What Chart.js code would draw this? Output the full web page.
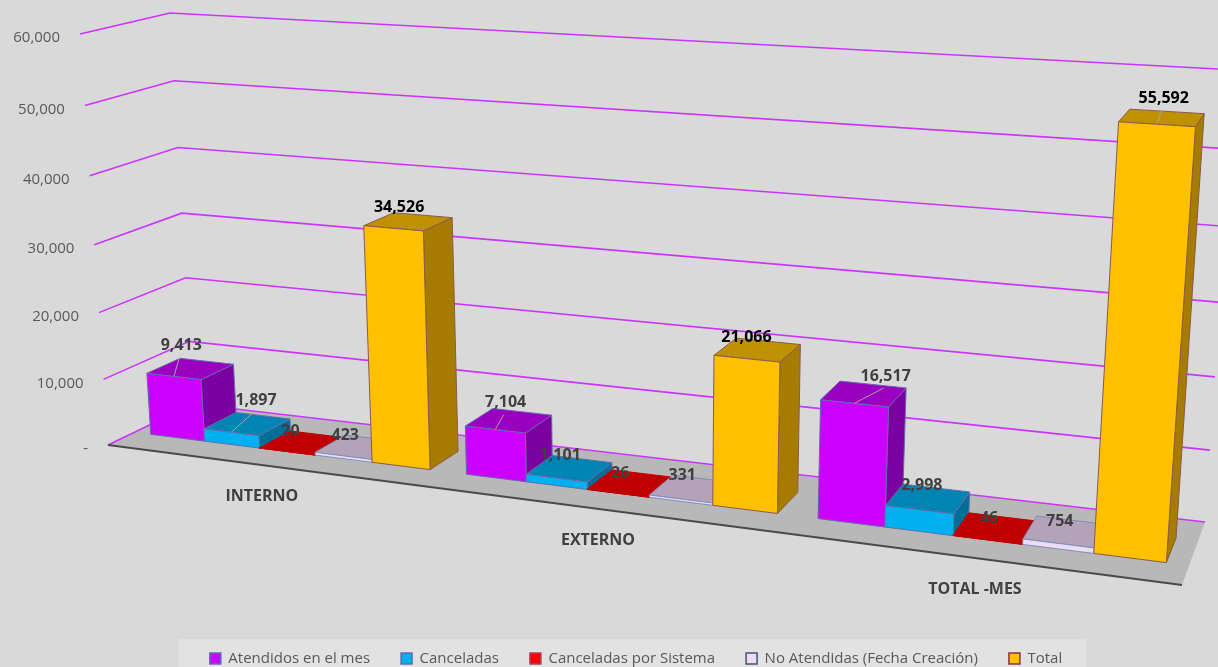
<!DOCTYPE html>
<html>
<head>
<meta charset="utf-8">
<title>Atendidos por mes</title>
<script src="https://cdn.jsdelivr.net/npm/chart.js@4"></script>
<style>
  html, body { margin: 0; padding: 0; background: #d9d9d9; overflow: hidden; }
  canvas { display: block; }
</style>
</head>
<body>
<canvas id="attendedChart" width="1218" height="667"></canvas>
<script>
const categories = ['INTERNO', 'EXTERNO', 'TOTAL -MES'];
const atendidos = [9413, 7104, 16517];
const canceladas = [1897, 1101, 2998];
const canceladasSistema = [20, 26, 46];
const noAtendidas = [423, 331, 754];
const totales = [34526, 21066, 55592];
const axisMax = 60000;
const axisStep = 10000;

// corners of the 3D box on screen: front/back, bottom/top, left/right
const box = {
  frontBottomLeft: [108, 445], frontBottomRight: [1182, 585],
  frontTopLeft: [80, 34], frontTopRight: [1216, 101],
  backBottomLeft: [193, 404], backBottomRight: [1205, 522],
  backTopLeft: [170, 13], backTopRight: [1236, 70],
};
const barDepthFront = 0.31;
const barDepthBack = 0.7;

// per series colours: front, top, side, outline
const faces = [
  { front: '#cc00ff', top: '#9900bf', side: '#7a00a0', line: '#6a66b0' },
  { front: '#00b0f0', top: '#0084b4', side: '#006f98', line: '#5f6fa8' },
  { front: '#ff0000', top: '#c00000', side: '#a00000', line: '#c00000' },
  { front: '#eddcf6', top: '#b3a2b8', side: '#9a8ca0', line: '#7f8fb8' },
  { front: '#ffc000', top: '#bf9000', side: '#a67c00', line: '#8a5a50' },
];

// where each value label sits, relative to the middle of its bar top
const labelOffsets = [
  [[-9, -23], [-3, -18], [22, -18]],
  [[9, -24], [-9, -13], [-6, -13]],
  [[-12, -11], [-10, -10], [-6, -10]],
  [[-13, -12], [-10, -13], [-5, -10]],
  [[-9, -14], [-11, -13], [2, -19]],
];
// series/category pairs that have a leader line
const leaders = [[0, 0], [0, 1], [0, 2], [1, 0], [4, 2]];

const lerp = (a, b, t) => [a[0] + (b[0] - a[0]) * t, a[1] + (b[1] - a[1]) * t];

function quadMap(p0, p1, p2, p3) {
  const sx = p0[0] - p1[0] + p2[0] - p3[0];
  const sy = p0[1] - p1[1] + p2[1] - p3[1];
  const dx1 = p1[0] - p2[0], dx2 = p3[0] - p2[0];
  const dy1 = p1[1] - p2[1], dy2 = p3[1] - p2[1];
  const den = dx1 * dy2 - dx2 * dy1;
  const g = (sx * dy2 - dx2 * sy) / den;
  const h = (dx1 * sy - sx * dy1) / den;
  const a = p1[0] - p0[0] + g * p1[0], b = p3[0] - p0[0] + h * p3[0];
  const d = p1[1] - p0[1] + g * p1[1], e = p3[1] - p0[1] + h * p3[1];
  return (u, v) => {
    const w = g * u + h * v + 1;
    return [(a * u + b * v + p0[0]) / w, (d * u + e * v + p0[1]) / w];
  };
}

// u across the categories, v up the value axis, depth 0 front to 1 back
function project(u, v, depth) {
  return quadMap(
    lerp(box.frontBottomLeft, box.backBottomLeft, depth),
    lerp(box.frontBottomRight, box.backBottomRight, depth),
    lerp(box.frontTopRight, box.backTopRight, depth),
    lerp(box.frontTopLeft, box.backTopLeft, depth)
  )(u, v);
}

function polygon(ctx, points, fill, line) {
  ctx.beginPath();
  points.forEach((p, i) => (i ? ctx.lineTo(p[0], p[1]) : ctx.moveTo(p[0], p[1])));
  ctx.closePath();
  if (fill) { ctx.fillStyle = fill; ctx.fill(); }
  if (line) { ctx.strokeStyle = line; ctx.lineWidth = 1; ctx.stroke(); }
}

const formatValue = (value) => (value === 0 ? '-' : value.toLocaleString('en-US'));

const perspectivePlugin = {
  id: 'perspective',
  beforeDraw(chart) {
    const { ctx, width, height, legend } = chart;
    ctx.save();
    ctx.fillStyle = '#d9d9d9';
    ctx.fillRect(0, 0, width, height);
    const hits = legend.legendHitBoxes;
    const last = hits[hits.length - 1];
    ctx.fillStyle = '#e2e2e2';
    ctx.fillRect(hits[0].left - 31, 639, last.left + last.width - hits[0].left + 55, height - 639);
    ctx.restore();
  },
  beforeDatasetsDraw(chart) {
    const { ctx, chartArea, scales } = chart;
    const vOf = (value) => (chartArea.bottom - scales.y.getPixelForValue(value)) / chartArea.height;
    const uOf = (px) => (px - chartArea.left) / chartArea.width;
    ctx.save();

    polygon(ctx, [box.frontBottomLeft, box.frontBottomRight, box.backBottomRight, box.backBottomLeft], '#b8b8b8');

    // gridlines run along the left wall, then along the back wall
    ctx.strokeStyle = '#cc33ff';
    ctx.lineWidth = 1.6;
    ctx.fillStyle = '#595959';
    ctx.font = '15px "Open Sans"';
    ctx.textBaseline = 'middle';
    ctx.textAlign = 'right';
    scales.y.ticks.forEach((tick) => {
      const v = vOf(tick.value);
      const start = project(0, v, 0);
      const corner = project(0, v, 1);
      const end = project(1, v, 1);
      ctx.beginPath();
      ctx.moveTo(start[0], start[1]);
      ctx.lineTo(corner[0], corner[1]);
      ctx.lineTo(end[0], end[1]);
      ctx.stroke();
      ctx.fillText(formatValue(tick.value), start[0] - 20, start[1] + 4);
    });

    ctx.beginPath();
    ctx.moveTo(box.frontBottomLeft[0], box.frontBottomLeft[1]);
    ctx.lineTo(box.frontBottomRight[0], box.frontBottomRight[1]);
    ctx.strokeStyle = '#4a4a4a';
    ctx.lineWidth = 2;
    ctx.stroke();

    // bars, left to right so each front covers the side of the bar before it
    const tops = [];
    categories.forEach((category, c) => {
      chart.data.datasets.forEach((dataset, s) => {
        const bar = chart.getDatasetMeta(s).data[c];
        const left = uOf(bar.x - bar.width / 2);
        const right = uOf(bar.x + bar.width / 2);
        const v = vOf(dataset.data[c]);
        const near = barDepthFront, far = barDepthBack;
        const look = faces[s];
        polygon(ctx, [project(right, 0, near), project(right, 0, far), project(right, v, far), project(right, v, near)], look.side, look.line);
        polygon(ctx, [project(left, v, near), project(right, v, near), project(right, v, far), project(left, v, far)], look.top, look.line);
        polygon(ctx, [project(left, 0, near), project(right, 0, near), project(right, v, near), project(left, v, near)], look.front, look.line);
        tops.push({ s, c, value: dataset.data[c], mid: project((left + right) / 2, v, (near + far) / 2), edge: project((left + right) / 2, v, near) });
      });
    });

    // category labels hang under the front edge
    ctx.fillStyle = '#404040';
    ctx.font = 'bold 16px "Open Sans"';
    ctx.textAlign = 'center';
    categories.forEach((category, c) => {
      const p = project(uOf(scales.x.getPixelForTick(c)), 0, 0);
      ctx.fillText(category, p[0] - 1, p[1] + 31);
    });

    tops.forEach((top) => {
      const off = labelOffsets[top.s][top.c];
      const x = top.mid[0] + off[0];
      const y = top.mid[1] + off[1];
      if (leaders.some((l) => l[0] === top.s && l[1] === top.c)) {
        ctx.beginPath();
        ctx.moveTo(top.edge[0], top.edge[1]);
        ctx.lineTo(x - 2, y + 12);
        ctx.strokeStyle = '#a6a6a6';
        ctx.lineWidth = 1;
        ctx.stroke();
      }
      ctx.fillStyle = top.s === 4 ? '#000000' : '#404040';
      ctx.font = 'bold 16px "Open Sans"';
      ctx.fillText(formatValue(top.value), x, y);
    });

    ctx.restore();
    return false;
  },
};

new Chart(document.getElementById('attendedChart'), {
  type: 'bar',
  data: {
    labels: categories,
    datasets: [
      { label: 'Atendidos en el mes', data: atendidos, backgroundColor: faces[0].front, borderColor: faces[0].line, borderWidth: 1.5 },
      { label: 'Canceladas', data: canceladas, backgroundColor: faces[1].front, borderColor: faces[1].line, borderWidth: 1.5 },
      { label: 'Canceladas por Sistema', data: canceladasSistema, backgroundColor: faces[2].front, borderColor: '#b04060', borderWidth: 1.5 },
      { label: 'No Atendidas (Fecha Creación)', data: noAtendidas, backgroundColor: faces[3].front, borderColor: '#44546a', borderWidth: 1.5 },
      { label: 'Total', data: totales, backgroundColor: faces[4].front, borderColor: '#8b2f4f', borderWidth: 1.5 },
    ],
  },
  plugins: [perspectivePlugin],
  options: {
    responsive: false,
    animation: false,
    layout: { padding: { left: 54, bottom: -9 } },
    datasets: { bar: { categoryPercentage: 0.89, barPercentage: 1 } },
    scales: {
      x: { display: false },
      y: { display: false, min: 0, max: axisMax, ticks: { stepSize: axisStep } },
    },
    plugins: {
      tooltip: { enabled: false },
      legend: {
        position: 'bottom',
        labels: {
          boxWidth: 11,
          boxHeight: 11,
          padding: 31,
          color: '#595959',
          font: { family: '"Open Sans"', size: 15 },
        },
      },
    },
  },
});
</script>
</body>
</html>
